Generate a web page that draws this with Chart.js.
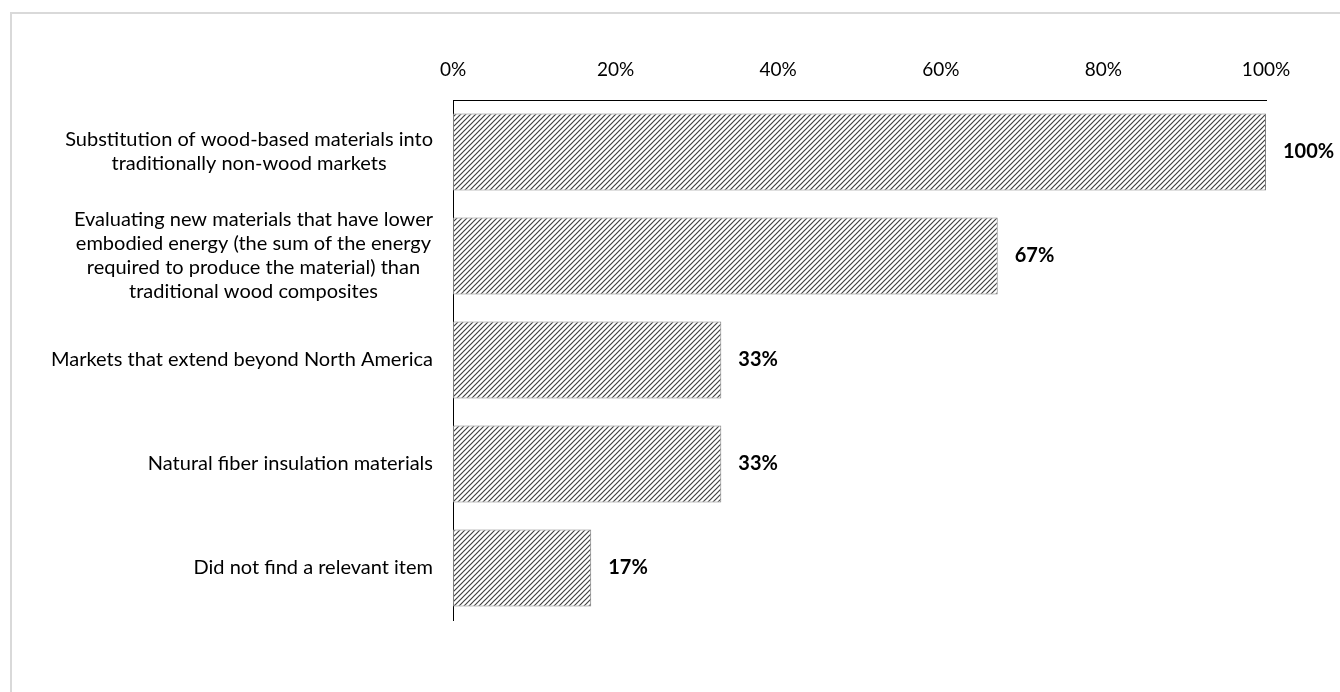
<!DOCTYPE html>
<html>
<head>
<meta charset="utf-8">
<script src="https://cdn.jsdelivr.net/npm/chart.js@4.4.1/dist/chart.umd.min.js"></script>
<style>
    html, body { margin: 0; padding: 0; background: #fff; overflow: hidden; }
    #frame {
        position: absolute; left: 10px; top: 12px;
        width: 1400px; height: 800px;
        border: 2px solid #d9d9d9;
    }
    #wrap { position: absolute; left: 0; top: 0; width: 1340px; height: 692px; }
</style>
</head>
<body>
<div id="frame"></div>
<div id="wrap"><canvas id="chart" width="1340" height="692"></canvas></div>
<script>
const categories = [
    ['Substitution of wood-based materials into', 'traditionally non-wood markets'],
    ['Evaluating new materials that have lower', 'embodied energy (the sum of the energy', 'required to produce the material) than', 'traditional wood composites'],
    ['Markets that extend beyond North America'],
    ['Natural fiber insulation materials'],
    ['Did not find a relevant item']
];
const shares = [100, 67, 33, 33, 17];
const xTicks = [0, 20, 40, 60, 80, 100];

const FONT = 'Lato, "Open Sans", sans-serif';

// diagonal hatch fill for the bars
function makeHatch() {
    const n = 5;
    const c = document.createElement('canvas');
    c.width = n;
    c.height = n;
    const g = c.getContext('2d');
    g.fillStyle = '#ffffff';
    g.fillRect(0, 0, n, n);
    g.strokeStyle = '#404040';
    g.lineWidth = 1.2;
    g.beginPath();
    g.moveTo(-1, n + 1); g.lineTo(n + 1, -1);
    g.moveTo(-1, 1); g.lineTo(1, -1);
    g.moveTo(n - 1, n + 1); g.lineTo(n + 1, n - 1);
    g.stroke();
    return g.createPattern(c, 'repeat');
}

// category labels: each block right-aligned, its lines centred
const categoryLabels = {
    id: 'categoryLabels',
    afterDraw(chart) {
        const ctx = chart.ctx;
        const y = chart.scales.y;
        const right = chart.chartArea.left - 20;
        const lineH = 24;
        ctx.save();
        ctx.font = '20px ' + FONT;
        ctx.fillStyle = '#000';
        ctx.textAlign = 'center';
        ctx.textBaseline = 'middle';
        categories.forEach((lines, i) => {
            const w = Math.max(...lines.map(l => ctx.measureText(l).width));
            const cx = right - w / 2;
            const cy = y.getPixelForTick(i);
            const top = cy - (lines.length - 1) * lineH / 2;
            lines.forEach((l, j) => ctx.fillText(l, cx, top + j * lineH));
        });
        ctx.restore();
    }
};

// bold value labels to the right of each bar
const valueLabels = {
    id: 'valueLabels',
    afterDatasetsDraw(chart) {
        const ctx = chart.ctx;
        const meta = chart.getDatasetMeta(0);
        ctx.save();
        ctx.font = 'bold 20px ' + FONT;
        ctx.fillStyle = '#000';
        ctx.textAlign = 'left';
        ctx.textBaseline = 'middle';
        meta.data.forEach((bar, i) => {
            ctx.fillText(shares[i] + '%', bar.x + 17, bar.y);
        });
        ctx.restore();
    }
};

new Chart(document.getElementById('chart'), {
    type: 'bar',
    data: {
        labels: categories.map(c => c.join(' ')),
        datasets: [{
            data: shares,
            backgroundColor: makeHatch(),
            borderColor: '#7f7f7f',
            borderWidth: 1,
            borderSkipped: false,
            categoryPercentage: 1,
            barPercentage: 0.74
        }]
    },
    options: {
        indexAxis: 'y',
        responsive: false,
        animation: false,
        layout: { padding: { right: 74, bottom: 72 } },
        plugins: { legend: { display: false }, tooltip: { enabled: false } },
        scales: {
            x: {
                position: 'top',
                min: 0,
                max: 100,
                afterBuildTicks: s => { s.ticks = xTicks.map(v => ({ value: v })); },
                afterFit: s => { s.height = 100; },
                grid: { display: false, drawTicks: false },
                border: { color: '#000', width: 1 },
                ticks: {
                    padding: 19,
                    color: '#000',
                    font: { family: FONT, size: 19 },
                    callback: v => v + '%'
                }
            },
            y: {
                afterFit: s => { s.width = 453; },
                grid: { display: false, drawTicks: false },
                border: { color: '#000', width: 1 },
                ticks: { display: false }
            }
        }
    },
    plugins: [categoryLabels, valueLabels]
});
</script>
</body>
</html>
